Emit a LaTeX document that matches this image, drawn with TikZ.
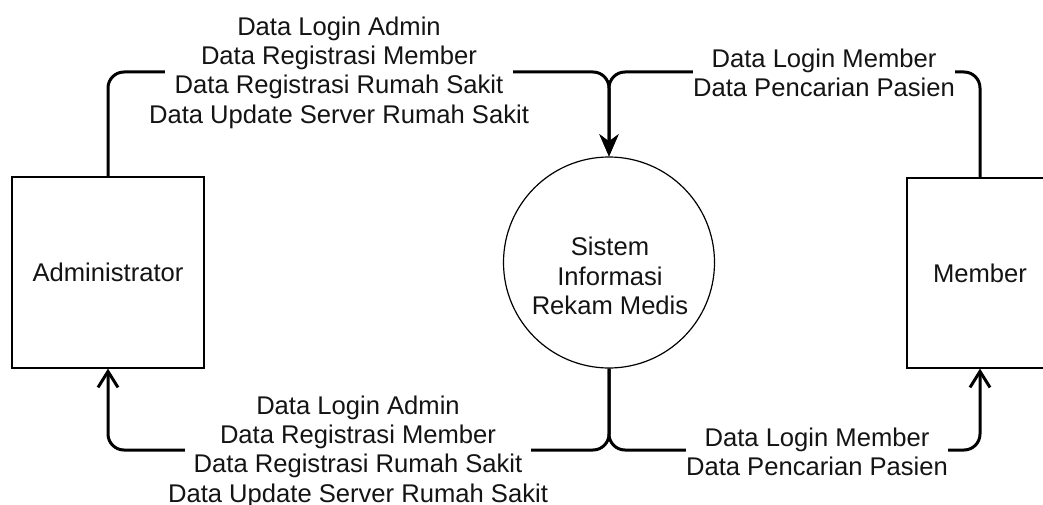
\documentclass[tikz,border=0pt]{standalone}
\usepackage{fontspec}
\setmainfont{Liberation Sans}
\usetikzlibrary{arrows.meta}
\begin{document}
\begin{tikzpicture}[x=1pt,y=-1pt,
  txt/.style={font=\fontsize{25.6}{29.4}\selectfont, align=center, text=black!92},
  lbl/.style={txt, fill=white, inner ysep=1pt, inner xsep=0pt},
  entity/.style={draw=black, line width=1.2pt, fill=white, txt, inner sep=0pt},
  proc/.style={draw=black, line width=1.2pt, circle, fill=white, inner sep=0pt, minimum size=211pt},
  flowline/.style={line width=3pt, rounded corners=16pt},
  flow/.style={flowline, -{Straight Barb[length=16pt,width=20pt,line width=3pt]}},
  flowin/.style={flowline, -{Stealth[length=22pt,width=19pt,inset=7pt]}}
]
\useasboundingbox (0,0) rectangle (1043,505);
\clip (0,0) rectangle (1043,505);
\fill[white] (0,0) rectangle (1043,505);

% nodes
\node[entity, minimum width=192pt, minimum height=191pt] (admin) at (108,272.5) {Administrator};
\node[entity, minimum width=146pt, minimum height=190pt] (member) at (980,273) {Member};
\node[proc] (sys) at (609,262.5) {};
\node[txt] (systext) at (610,276) {Sistem\\Informasi\\Rekam Medis};

% junction points
\coordinate (jt) at (609,72);
\coordinate (jb) at (609,450);

% connectors
\draw[flowin] (admin.north) |- (jt) -- (sys.north);
\draw[flowin] (member.north) |- (jt) -- (sys.north);
\draw[flow] (sys.south) -- (jb) -| (admin.south);
\draw[flow] (sys.south) -- (jb) -| (member.south);

% labels
\node[lbl, inner xsep=-16pt] (l1) at (339,72.5) {Data Login Admin\\Data Registrasi Member\\Data Registrasi Rumah Sakit\\Data Update Server Rumah Sakit};
\node[lbl] (l2) at (824,73) {Data Login Member\\Data Pencarian Pasien};
\node[lbl, inner xsep=-17pt] (l3) at (358,451.5) {Data Login Admin\\Data Registrasi Member\\Data Registrasi Rumah Sakit\\Data Update Server Rumah Sakit};
\node[lbl] (l4) at (817,452) {Data Login Member\\Data Pencarian Pasien};
\end{tikzpicture}
\end{document}
